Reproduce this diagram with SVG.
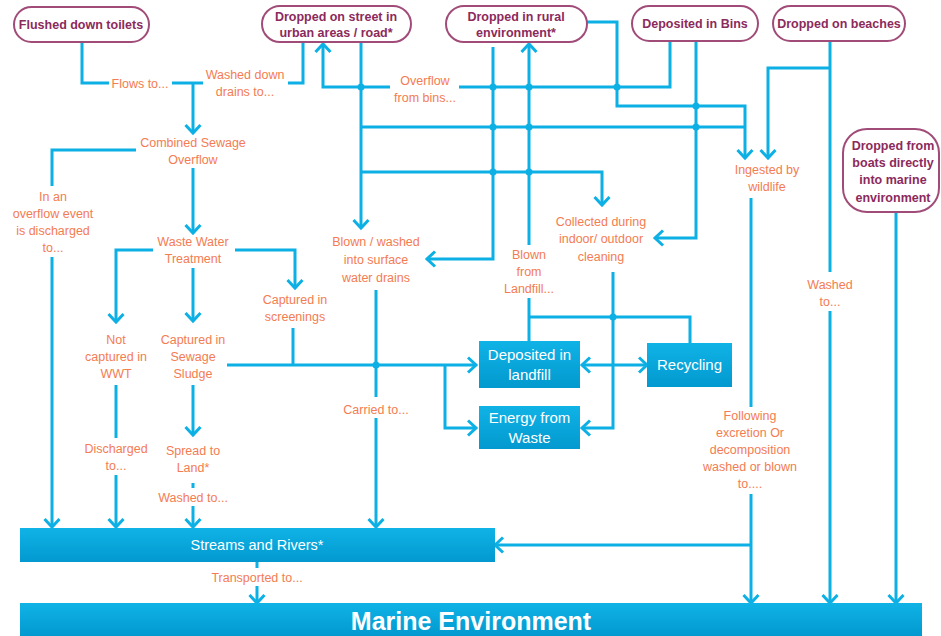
<svg xmlns="http://www.w3.org/2000/svg" width="941" height="636" viewBox="0 0 941 636">
<style>
.src rect{fill:#fff;stroke:#a14c78;stroke-width:2}
.src text{font-family:"Liberation Sans",Arial,sans-serif;font-size:12.5px;font-weight:bold;fill:#8c2a5c;text-anchor:middle}
.box rect{fill:url(#bg)}
.box text{font-family:"Liberation Sans",Arial,sans-serif;font-size:15px;fill:#fff;text-anchor:middle}
.lbl{font-family:"Liberation Sans",Arial,sans-serif;font-size:12.5px;fill:#f47c52;text-anchor:middle}
#connectors path{fill:none;stroke:#0cb0e4;stroke-width:3}
#connectors path.a{marker-end:url(#ah)}
#connectors circle{fill:#0cb0e4}
</style>
<defs>
<linearGradient id="bg" x1="0" y1="0" x2="0" y2="1">
<stop offset="0" stop-color="#10b3e6"/>
<stop offset="1" stop-color="#0299cf"/>
</linearGradient>
<marker id="ah" markerUnits="userSpaceOnUse" markerWidth="24" markerHeight="24" viewBox="-12 -12 24 24" refX="0" refY="0" orient="auto">
<path d="M-8,-7.5 L0,0 L-8,7.5" fill="none" stroke="#0cb0e4" stroke-width="3" stroke-linejoin="miter"/>
</marker>
</defs>
<rect width="941" height="636" fill="#fff"/>

<g id="connectors">
<path d="M82,43 V83 H109"/>
<path d="M172,83 H203"/>
<path class="a" d="M193,83 V133"/>
<path d="M288,83 H303 V43"/>
<path d="M670,42 V87 H459"/>
<path class="a" d="M390,87 H323 V44"/>
<path class="a" d="M587,22 H617 V106 H745 V158"/>
<path class="a" d="M361,43 V228"/>
<path d="M361,127 H745"/>
<path class="a" d="M361,172 H602 V205"/>
<path class="a" d="M493,47 V259 H427"/>
<path class="a" d="M529,245 V44"/>
<path d="M529,298 V341"/>
<path d="M529,317 H690 V343"/>
<path class="a" d="M696,42 V238 H655"/>
<path class="a" d="M613,272 V428 H582"/>
<path class="a" d="M613,365 H582"/>
<path class="a" d="M613,365 H647"/>
<path d="M293,328 V365"/>
<path class="a" d="M227,365 H476"/>
<path class="a" d="M445,365 V428 H476"/>
<path d="M376,290 V397"/>
<path class="a" d="M376,418 V527"/>
<path d="M136,150 H52 V186"/>
<path class="a" d="M52,257 V527"/>
<path class="a" d="M193,168 V233"/>
<path class="a" d="M153,250 H116 V322"/>
<path class="a" d="M235,250 H295 V288"/>
<path class="a" d="M193,268 V321"/>
<path d="M116,385 V438"/>
<path class="a" d="M116,475 V527"/>
<path class="a" d="M193,385 V435"/>
<path d="M193,483 V488"/>
<path class="a" d="M193,506 V527"/>
<path d="M257,562 V568"/>
<path class="a" d="M257,586 V603"/>
<path d="M751,198 V407"/>
<path class="a" d="M751,494 V603"/>
<path class="a" d="M751,545 H495"/>
<path d="M830,42 V272"/>
<path class="a" d="M830,311 V603"/>
<path class="a" d="M830,68 H768 V158"/>
<path class="a" d="M896,212 V603"/>
<circle cx="361" cy="87" r="3.5"/>
<circle cx="493" cy="87" r="3.5"/>
<circle cx="529" cy="87" r="3.5"/>
<circle cx="617" cy="87" r="3.5"/>
<circle cx="493" cy="127" r="3.5"/>
<circle cx="529" cy="127" r="3.5"/>
<circle cx="696" cy="127" r="3.5"/>
<circle cx="696" cy="106" r="3.5"/>
<circle cx="493" cy="172" r="3.5"/>
<circle cx="529" cy="172" r="3.5"/>
<circle cx="613" cy="317" r="3.5"/>
<circle cx="376" cy="365" r="3.5"/>
</g>

<g id="n-toilets" class="src"><rect x="14" y="7" width="135" height="35" rx="17.5"/><text x="81" y="28.5">Flushed down toilets</text></g>
<g id="n-street" class="src"><rect x="262" y="6" width="149" height="36" rx="18"/><text x="336" y="20.5">Dropped on street in</text><text x="336" y="36.5">urban areas / road*</text></g>
<g id="n-rural" class="src"><rect x="446" y="6" width="141" height="36" rx="18"/><text x="516" y="20.5">Dropped in rural</text><text x="516" y="36.5">environment*</text></g>
<g id="n-bins" class="src"><rect x="632" y="6" width="126" height="35" rx="17.5"/><text x="695" y="28">Deposited in Bins</text></g>
<g id="n-beaches" class="src"><rect x="773" y="6" width="132" height="35" rx="17.5"/><text x="839" y="28">Dropped on beaches</text></g>
<g id="n-boats" class="src"><rect x="843" y="129" width="96" height="83" rx="24"/><text x="893" y="149.5">Dropped from</text><text x="893" y="166.5">boats directly</text><text x="893" y="184">into marine</text><text x="893" y="201.5">environment</text></g>

<g id="n-landfill" class="box"><rect x="479" y="341" width="101" height="47"/><text x="529.5" y="360">Deposited in</text><text x="529.5" y="380">landfill</text></g>
<g id="n-efw" class="box"><rect x="479" y="406" width="101" height="43"/><text x="529.5" y="423">Energy from</text><text x="529.5" y="443">Waste</text></g>
<g id="n-recycling" class="box"><rect x="647" y="343" width="85" height="44"/><text x="689.5" y="369.5">Recycling</text></g>
<g id="n-streams" class="box"><rect x="20" y="528" width="475" height="34"/><text x="257" y="550" style="font-size:14.5px">Streams and Rivers*</text></g>
<g id="n-marine" class="box"><rect x="20" y="603" width="902" height="33"/><text x="471" y="630" style="font-size:25px;font-weight:bold">Marine Environment</text></g>

<g id="labels" class="lbl">
<text x="140" y="87.5">Flows to...</text>
<text x="245" y="78.5">Washed down</text><text x="245" y="96">drains to...</text>
<text x="425" y="84.5">Overflow</text><text x="425" y="102">from bins...</text>
<text x="193" y="146.5">Combined Sewage</text><text x="193" y="163.5">Overflow</text>
<text x="53" y="200.5">In an</text><text x="53" y="217.5">overflow event</text><text x="53" y="234.5">is discharged</text><text x="53" y="251.5">to...</text>
<text x="193" y="245.5">Waste Water</text><text x="193" y="262.5">Treatment</text>
<text x="295" y="303.5">Captured in</text><text x="295" y="320.5">screenings</text>
<text x="116" y="343.5">Not</text><text x="116" y="360.5">captured in</text><text x="116" y="377.5">WWT</text>
<text x="193" y="343.5">Captured in</text><text x="193" y="360.5">Sewage</text><text x="193" y="377.5">Sludge</text>
<text x="116" y="452.5">Discharged</text><text x="116" y="469.5">to...</text>
<text x="193" y="454.5">Spread to</text><text x="193" y="471.5">Land*</text>
<text x="193" y="501.5">Washed to...</text>
<text x="376" y="245.5">Blown / washed</text><text x="376" y="264">into surface</text><text x="376" y="281.5">water drains</text>
<text x="376" y="413.5">Carried to...</text>
<text x="529" y="259">Blown</text><text x="529" y="276">from</text><text x="529" y="293">Landfill...</text>
<text x="601" y="225.5">Collected during</text><text x="601" y="243">indoor/ outdoor</text><text x="601" y="261">cleaning</text>
<text x="767" y="173.5">Ingested by</text><text x="767" y="190.5">wildlife</text>
<text x="830" y="288.5">Washed</text><text x="830" y="306">to...</text>
<text x="750" y="419.5">Following</text><text x="750" y="436.5">excretion Or</text><text x="750" y="453.5">decomposition</text><text x="750" y="471">washed or blown</text><text x="750" y="488">to....</text>
<text x="257" y="582">Transported to...</text>
</g>
</svg>
